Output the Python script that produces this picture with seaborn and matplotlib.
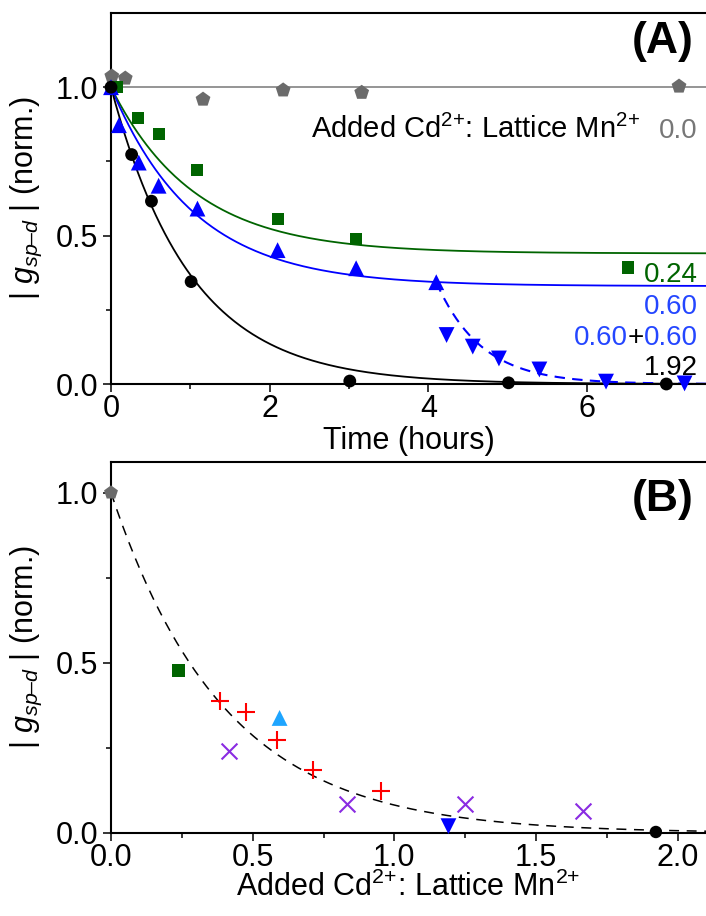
import numpy as np
import pandas as pd
import matplotlib
matplotlib.use("Agg")
import matplotlib.pyplot as plt
import seaborn as sns
from matplotlib.ticker import MultipleLocator, FixedLocator

# ---------------- Panel A data: |g_sp-d| vs time for each Cd:Mn ratio ----------------
t_r000 = [0.01, 0.18, 1.16, 2.17, 3.16, 7.16]
g_r000 = [1.037, 1.030, 0.959, 0.990, 0.982, 1.003]

t_r024 = [0.08, 0.34, 0.60, 1.09, 2.10, 3.09, 6.52]
g_r024 = [1.000, 0.895, 0.842, 0.720, 0.555, 0.487, 0.390]

t_r060 = [0.00, 0.10, 0.35, 0.60, 1.09, 2.10, 3.09, 4.10]
g_r060 = [1.000, 0.872, 0.746, 0.668, 0.591, 0.451, 0.390, 0.343]

t_r060b = [4.23, 4.56, 4.89, 5.40, 6.24, 7.23]
g_r060b = [0.165, 0.126, 0.086, 0.049, 0.008, 0.002]

t_r192 = [0.00, 0.26, 0.51, 1.01, 3.01, 5.01, 7.00]
g_r192 = [1.000, 0.773, 0.616, 0.345, 0.010, 0.004, 0.000]

# exponential fit parameters: y = P + (1-P) exp(-t/tau)
fit_names = ["0.0", "0.24", "0.60", "1.92"]
fit_plateau = [1.00, 0.44, 0.33, 0.00]
fit_tau = [1.00, 1.05, 1.05, 1.00]
# second addition fit: y = y0 exp(-(t-t0)/tau)
fit2_t0, fit2_y0, fit2_tau = 4.10, 0.343, 0.57

ratio_labels = ["0.24", "0.60", "0.60", "1.92"]

# ---------------- Panel B data: |g_sp-d| vs added Cd:Mn ----------------
b_pent_x, b_pent_y = [0.0], [1.0]
b_sq_x, b_sq_y = [0.238], [0.477]
b_plus_x = [0.384, 0.475, 0.587, 0.712, 0.952]
b_plus_y = [0.387, 0.356, 0.272, 0.186, 0.122]
b_x_x = [0.417, 0.834, 1.250, 1.667]
b_x_y = [0.240, 0.086, 0.086, 0.066]
b_tri_x, b_tri_y = [0.595], [0.338]
b_dtri_x, b_dtri_y = [1.191], [0.020]
b_circ_x, b_circ_y = [1.923], [0.003]
b_fit_c = 0.40   # y = exp(-x/c)

# ---------------- style ----------------
sns.set_style("ticks")
plt.rcParams["font.family"] = ["Liberation Sans", "DejaVu Sans"]
plt.rcParams["mathtext.fontset"] = "custom"
plt.rcParams["mathtext.rm"] = "Liberation Sans"
plt.rcParams["mathtext.it"] = "Liberation Sans:italic"
plt.rcParams["mathtext.bf"] = "Liberation Sans:bold"
plt.rcParams["axes.linewidth"] = 1.5
plt.rcParams["axes.edgecolor"] = "black"
plt.rcParams["xtick.color"] = "black"
plt.rcParams["ytick.color"] = "black"
plt.rcParams["text.color"] = "black"
plt.rcParams["axes.labelcolor"] = "black"

GREEN = "#006400"
BLUE = "#0000FF"
BLUE_T = "#2446FF"
GRAY_M = "#6B6B6B"
GRAY_L = "#8C8C8C"
GRAY_T = "#777777"
RED = "#FF0000"
PURPLE = "#8A2BE2"
CYAN = "#1EA5FF"

RATIO_TXT = r"Added Cd$^{2{+}}$: Lattice Mn$^{2{+}}$"
YLAB = r"| $g_{sp–d}$ | (norm.)"

fig = plt.figure(figsize=(7.06, 9.16), dpi=100)
axA = fig.add_axes([111 / 706, 1 - 384 / 916, 595 / 706, 371 / 916])
axB = fig.add_axes([111 / 706, 1 - 833 / 916, 595 / 706, 371 / 916])

# ---------------- Panel A ----------------
t_grid = np.linspace(0, 7.5, 400)
fit_colors = [GRAY_L, GREEN, BLUE, "black"]
for P, tau, c in zip(fit_plateau, fit_tau, fit_colors):
    yfit = P + (1 - P) * np.exp(-t_grid / tau)
    sns.lineplot(x=t_grid, y=yfit, color=c, lw=1.3, ax=axA, zorder=2)

t2 = np.linspace(fit2_t0, 7.5, 200)
sns.lineplot(x=t2, y=fit2_y0 * np.exp(-(t2 - fit2_t0) / fit2_tau), color=BLUE,
             lw=1.5, ax=axA, zorder=2, linestyle=(0, (5, 3.5)))

kw = dict(ax=axA, edgecolor="none", clip_on=False, legend=False)
sns.scatterplot(x=t_r000, y=g_r000, marker="p", s=125, color=GRAY_M, zorder=4, **kw)
sns.scatterplot(x=t_r024, y=g_r024, marker="s", s=75, color=GREEN, zorder=4, **kw)
sns.scatterplot(x=t_r060, y=g_r060, marker="^", s=130, color=BLUE, zorder=5, **kw)
sns.scatterplot(x=t_r060b, y=g_r060b, marker="v", s=130, color=BLUE, zorder=5, **kw)
sns.scatterplot(x=t_r192, y=g_r192, marker="o", s=85, color="black", zorder=6, **kw)

axA.set_xlim(0, 7.5)
axA.set_ylim(0, 1.25)
axA.xaxis.set_major_locator(MultipleLocator(2))
axA.xaxis.set_minor_locator(MultipleLocator(1))
axA.yaxis.set_major_locator(MultipleLocator(0.5))
axA.yaxis.set_minor_locator(FixedLocator([0.25, 0.75]))
axA.set_xlabel("Time (hours)", fontsize=22)
axA.set_ylabel(YLAB, fontsize=22)
axA.xaxis.set_label_coords(0.5, -0.113)
axA.yaxis.set_label_coords(-0.113, 0.5)

# annotations panel A
axA.text(0.928, 0.922, "(A)", transform=axA.transAxes, ha="center", va="center",
         fontsize=32, fontweight="bold")
xr = (698 - 111) / 595
def yb(py):
    return (384 - py) / 371

t00 = axA.text(xr, yb(138), "0.0", transform=axA.transAxes, ha="right",
               va="baseline", fontsize=20, color=GRAY_T)
axA.annotate(RATIO_TXT, xy=(0, yb(138)),
             xycoords=(t00, "axes fraction"), xytext=(-19, 0),
             textcoords="offset pixels", ha="right", va="baseline", fontsize=21)
axA.text(xr, yb(282), ratio_labels[0], transform=axA.transAxes, ha="right",
         va="baseline", fontsize=20, color=GREEN)
axA.scatter([(628 - 111) / 595], [yb(267)], transform=axA.transAxes, marker="s",
            s=75, color=GREEN, edgecolor="none", clip_on=False, zorder=4)
axA.text(xr, yb(314), ratio_labels[1], transform=axA.transAxes, ha="right",
         va="baseline", fontsize=20, color=BLUE_T)
p3 = axA.text(xr, yb(345), ratio_labels[2], transform=axA.transAxes, ha="right",
              va="baseline", fontsize=20, color=BLUE_T)
p2 = axA.annotate("+", xy=(0, yb(345)), xycoords=(p3, "axes fraction"),
                  ha="right", va="baseline", fontsize=20, color="black")
axA.annotate(ratio_labels[1], xy=(0, yb(345)), xycoords=(p2, "axes fraction"),
             ha="right", va="baseline", fontsize=20, color=BLUE_T)
axA.text(xr, yb(375), ratio_labels[3], transform=axA.transAxes, ha="right",
         va="baseline", fontsize=20, color="black")

# ---------------- Panel B ----------------
x_grid = np.linspace(0, 2.1, 300)
sns.lineplot(x=x_grid, y=np.exp(-x_grid / b_fit_c), color="black", lw=1.1,
             linestyle=(0, (6.5, 5)), ax=axB, zorder=2)

kwb = dict(ax=axB, clip_on=False, legend=False)
sns.scatterplot(x=b_pent_x, y=b_pent_y, marker="p", s=110, color=GRAY_M,
                edgecolor="none", zorder=4, **kwb)
sns.scatterplot(x=b_sq_x, y=b_sq_y, marker="s", s=80, color=GREEN,
                edgecolor="none", zorder=4, **kwb)
sns.scatterplot(x=b_plus_x, y=b_plus_y, marker="+", s=150, color=RED,
                linewidth=1.5, zorder=4, **kwb)
sns.scatterplot(x=b_x_x, y=b_x_y, marker="x", s=130, color=PURPLE,
                linewidth=1.5, zorder=4, **kwb)
sns.scatterplot(x=b_tri_x, y=b_tri_y, marker="^", s=130, color=CYAN,
                edgecolor="none", zorder=4, **kwb)
sns.scatterplot(x=b_dtri_x, y=b_dtri_y, marker="v", s=130, color=BLUE,
                edgecolor="none", zorder=4, **kwb)
sns.scatterplot(x=b_circ_x, y=b_circ_y, marker="o", s=80, color="black",
                edgecolor="none", zorder=5, **kwb)

axB.set_xlim(0, 2.1)
axB.set_ylim(0, 1.09)
axB.xaxis.set_major_locator(MultipleLocator(0.5))
axB.xaxis.set_minor_locator(FixedLocator([0.25, 0.75, 1.25, 1.75]))
axB.yaxis.set_major_locator(MultipleLocator(0.5))
axB.yaxis.set_minor_locator(FixedLocator([0.25, 0.75]))
axB.set_xlabel(RATIO_TXT, fontsize=22)
axB.set_ylabel(YLAB, fontsize=22)
axB.xaxis.set_label_coords(0.5, -0.105)
axB.yaxis.set_label_coords(-0.113, 0.5)
axB.text(0.928, 0.899, "(B)", transform=axB.transAxes, ha="center", va="center",
         fontsize=32, fontweight="bold")

for ax in (axA, axB):
    ax.spines["right"].set_visible(False)
    ax.tick_params(which="major", direction="out", length=6, width=1.1,
                   labelsize=22, color="black", labelcolor="black")
    ax.tick_params(which="minor", direction="out", length=3.6, width=1.1,
                   color="black")
    ax.tick_params(axis="x", which="major", pad=1.5)
    ax.tick_params(axis="y", which="major", pad=3)
    ax.tick_params(right=False, top=False, which="both")

fig.savefig("out.png", dpi=100)
